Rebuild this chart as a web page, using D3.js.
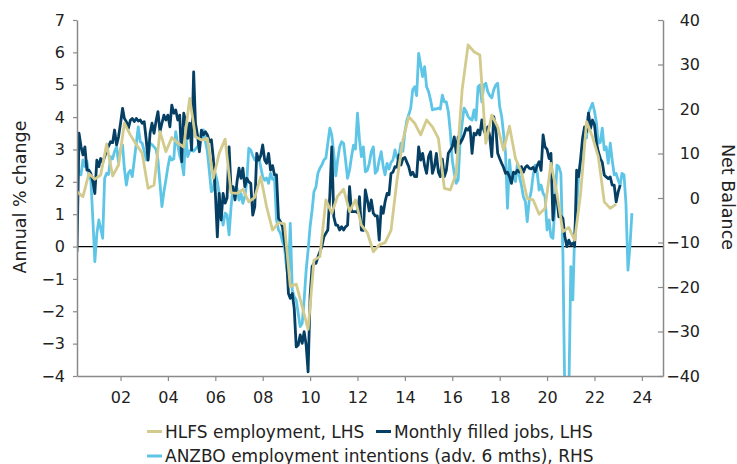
<!DOCTYPE html>
<html>
<head>
<meta charset="utf-8">
<script src="https://cdn.jsdelivr.net/npm/d3@7"></script>
<style>
  body { margin: 0; background: #fff; }
  svg { display: block; font-family: "DejaVu Sans", Verdana, sans-serif; }
</style>
</head>
<body>
<svg id="chart" width="737" height="464"></svg>
<script>
// HLFS employment, annual % change, quarterly from Mar 2000 (LHS)
var hlfs = [1.69, 1.54, 2.26, 2.08, 2.21, 3.17, 2.18, 2.52, 3.81, 3.45,
  3.15, 2.88, 1.80, 1.90, 3.55, 2.93, 3.37, 3.2, 3.07, 4.58,
  3.39, 3.29, 3.34, 2.11, 2.88, 3.32, 1.66, 1.64, 1.77, 1.38,
  1.52, 2.16, 1.23, 0.51, 0.74, 0.70, -1.24, -1.16, -1.86, -2.56,
  -0.42, -0.31, 1.44, 1.03, 1.56, 1.77, 1.08, 1.44, 0.66, 0.43,
  -0.16, 0.05, 0.12, 0.5, 2.05, 3.29, 4.01, 3.81, 3.45, 3.91,
  3.7, 3.34, 1.80, 1.75, 2.26, 4.84, 6.23, 6.02, 5.92, 3.19,
  4.06, 3.7, 2.98, 3.72, 2.72, 2.31, 1.49, 1.44, 1.0, 1.18,
  2.57, 1.64, 0.46, 0.59, 0.2, 1.64, 3.86, 3.39, 2.77, 1.38,
  1.18, 1.31];

// Monthly filled jobs, annual % change, monthly from Mar 2000 (LHS)
var filledJobs = [-0.16, 3.5, 3.1, 2.83, 3.08, 2.36, 2.36, 2.25, 2.0, 1.64,
  2.67, 2.47, 2.72, 2.6, 2.77, 2.98, 3.1, 3.24, 3.21, 3.6,
  3.14, 3.39, 3.8, 4.27, 3.96, 3.86, 3.65, 3.9, 3.96, 3.86,
  3.96, 3.88, 3.91, 3.81, 3.86, 3.3, 2.67, 3.5, 3.81, 3.5,
  3.86, 4.17, 3.55, 3.81, 4.06, 3.91, 4.06, 3.7, 4.37, 4.12,
  4.22, 3.91, 4.06, 2.62, 4.12, 3.86, 3.34, 3.81, 2.98, 5.40,
  3.81, 3.45, 2.93, 3.60, 3.45, 3.55, 3.45, 3.24, 3.3, 2.72,
  1.69, 0.30, 1.64, 0.82, 1.64, 1.34, 1.5, 3.08, 1.75, 1.85,
  1.44, 2.0, 2.42, 2.11, 2.42, 1.85, 2.11, 2.0, 1.95, 0.97,
  1.23, 2.88, 2.67, 2.8, 3.14, 2.67, 2.57, 2.88, 2.36, 2.5,
  2.21, 2.21, 0.87, 0.77, 0.61, 0.15, -0.26, -1.45, -1.6, -1.45,
  -1.91, -3.1, -3.05, -2.73, -2.99, -2.63, -3.04, -3.87, -1.5, -0.62,
  -0.52, -0.52, -0.32, -0.16, 0.0, 0.3, 0.41, 0.51, 1.59, 3.08,
  0.92, 0.66, 0.66, 0.51, 0.61, 0.51, 0.61, 0.66, 1.85, 1.08,
  1.08, 1.08, 1.05, 1.54, 0.51, 0.5, 1.75, 1.44, 1.1, 1.44,
  1.03, 0.95, 0.95, 0.2, 1.23, 1.03, 1.38, 1.64, 1.6, 2.26,
  2.3, 2.47, 2.45, 2.83, 2.52, 2.72, 2.75, 2.6, 2.47, 2.21,
  2.3, 2.16, 2.16, 3.08, 2.67, 2.88, 2.5, 2.26, 2.78, 2.93,
  2.26, 2.47, 2.88, 2.3, 2.16, 2.7, 2.16, 2.35, 2.88, 2.98,
  3.08, 3.39, 2.9, 3.39, 3.19, 3.3, 3.45, 3.65, 3.6, 3.70,
  2.88, 3.5, 3.45, 3.6, 3.45, 3.91, 3.6, 3.45, 3.7, 3.4,
  2.78, 4.01, 3.7, 2.88, 2.72, 2.57, 2.45, 2.26, 2.3, 2.16,
  1.95, 2.3, 2.26, 2.36, 2.3, 2.47, 2.3, 2.45, 2.5, 2.42,
  2.4, 2.45, 2.31, 2.5, 2.62, 2.35, 3.45, 3.08, 3.0, 2.72,
  2.88, 0.82, 1.59, 1.5, 0.92, 0.95, 0.87, 0.30, 0.0, 0.2,
  0.05, 0.1, 0.0, 2.36, 2.16, 2.7, 3.34, 3.70, 3.55, 4.12,
  3.65, 3.91, 3.76, 3.19, 2.93, 2.72, 2.6, 2.21, 2.15, 2.1,
  2.15, 1.90, 1.9, 1.38, 1.69, 1.90];

// ANZBO employment intentions, net balance, advanced 6 months, monthly from Mar 2000 (RHS)
var anzbo = [9.67, 5.55, 5.2, 8.54, 7.04, 8.3, 5.0, 4.05, -5, -14.3,
  -8, -4.94, -6.8, -9.05, 4.43, 5.55, 5.3, 9.28, 8.8, 10.5,
  11.5, 8.0, 11.0, 11.9, 6.68, 2.92, 5.55, 6.2, 4.8, 8.54,
  12.3, 16.0, 12.65, 12.3, 10.5, 8.54, 8.8, 12.3, 12.0, 11.5,
  11.0, 8.54, 3.3, -1.95, 1.42, 4.05, 7.0, 9.28, 8.54, 8.8,
  14.9, 11.9, 9.5, 8.16, 5.2, 14.5, 9.3, 10.5, 11.0, 10.5,
  11.0, 11.5, 12.5, 13.0, 15.3, 12.8, 10.4, 6.0, 1.42, 2.0,
  5.55, 3.67, 1.0, -3.07, -6.06, -3.4, -3.8, -8.3, -1.95, 2.5,
  0.67, 2.2, -0.45, 1.0, -1.2, 0.3, 3.67, 11.2, 10.8, 9.5,
  8.54, 9.0, 9.28, 7.04, 4.8, 4.0, 4.5, 3.3, 5.55, 4.2,
  4.5, -4.94, -7.2, -7.93, -9.8, -10.9, -15.4, -18.4, -5.7, -20.7,
  -22.2, -22.9, -25.9, -28.9, -28.2, -22.9, -16.2, -11.7, -6.4, -2.7,
  1.42, 2.5, 5.55, 6.68, 7.4, 8.54, 9.0, 12.3, 15.7, 14.2,
  10.0, 5.0, 8.54, 11.5, 12.65, 12.3, 8.54, 4.43, 6.3, 9.28,
  11.9, 11.0, 19.04, 13.1, 9.28, 11.5, 5.9, 6.2, 7.8, 10.4,
  11.5, 5.55, 6.2, 8.54, 10.4, 7.04, 5.2, 7.8, 6.5, 8.0,
  8.54, 10.8, 9.0, 9.5, 12.3, 10.5, 14.9, 17.5, 18.7, 20.2,
  24.3, 25.0, 23.0, 32.5, 29.9, 27.3, 29.5, 25.0, 23.9, 22.0,
  19.8, 20.0, 20.0, 20.2, 20.0, 23.1, 21.6, 21.6, 19.4, 15.0,
  8.54, 5.55, 3.3, 4.05, 12.65, 16.8, 20.2, 19.5, 18.3, 17.8,
  17.5, 19.8, 17.5, 25.0, 25.4, 21.6, 25.4, 25.8, 23.9, 23.0,
  22.5, 24.3, 25.4, 25.8, 20.5, 18.3, 14.5, 10.0, -2.3, 8.54,
  4.05, 5.2, 3.67, 7.8, 4.8, 3.0, 0.3, -0.8, -5.3, -0.5,
  1.42, 5.2, 7.4, 5.9, 1.8, 2.92, 1.05, 0.3, -7.2, -4.94,
  -8.7, -9.05, -2, 7.4, 7.0, 5.55, -12.4, -45, -45, -45,
  -15.4, -22.9, -8, -2, 4.8, 8, 10.0, 13.8, 13.5, 19.04,
  20.2, 21.3, 19.5, 16.8, 12.3, 12.5, 15.7, 10.8, 11.5, 7.8,
  12.3, 8.54, 5.2, 5.5, 4, 2.92, 5.55, 5.2, -1.2, -16.2,
  -11.0, -3.4];

var leftTicks = [-4, -3, -2, -1, 0, 1, 2, 3, 4, 5, 6, 7];
var rightTicks = [-40, -30, -20, -10, 0, 10, 20, 30, 40];
var yearLabels = ["02", "04", "06", "08", "10", "12", "14", "16", "18", "20", "22", "24"];
var seriesNames = ["HLFS employment, LHS", "Monthly filled jobs, LHS", "ANZBO employment intentions (adv. 6 mths), RHS"];
var colors = { hlfs: "#d3cb8d", jobs: "#053f64", anzbo: "#5ec5e7" };

var svg = d3.select("#chart"),
  plotLeft = 77, plotRight = 663, plotTop = 20, plotBottom = 376;

var start = new Date(2000, 2, 1);

var x = d3.scaleTime()
  .domain([start, new Date(2024, 10, 22)])
  .range([plotLeft, plotRight]);
var yL = d3.scaleLinear().domain([-4, 7]).range([plotBottom, plotTop]);
var yR = d3.scaleLinear().domain([-40, 40]).range([plotBottom, plotTop]);

function monthly(arr) {
  return arr.map(function(v, i) { return { date: d3.timeMonth.offset(start, i), value: v }; });
}
function quarterly(arr) {
  return arr.map(function(v, i) { return { date: d3.timeMonth.offset(start, i * 3), value: v }; });
}

svg.append("defs").append("clipPath").attr("id", "plot")
  .append("rect").attr("x", plotLeft).attr("y", plotTop)
  .attr("width", plotRight - plotLeft).attr("height", plotBottom - plotTop);

// zero line
svg.append("line")
  .attr("x1", plotLeft).attr("x2", plotRight)
  .attr("y1", yL(0)).attr("y2", yL(0))
  .attr("stroke", "#000").attr("stroke-width", 1.2);

var plot = svg.append("g").attr("clip-path", "url(#plot)");

function drawLine(data, yScale, color) {
  plot.append("path")
    .datum(data)
    .attr("fill", "none")
    .attr("stroke", color)
    .attr("stroke-width", 2.8)
    .attr("stroke-linejoin", "round")
    .attr("d", d3.line()
      .x(function(d) { return x(d.date); })
      .y(function(d) { return yScale(d.value); }));
}

drawLine(monthly(anzbo), yR, colors.anzbo);
drawLine(monthly(filledJobs), yL, colors.jobs);
drawLine(quarterly(hlfs), yL, colors.hlfs);

// axes
var axisColor = "#8a8a8a";
function styleAxis(g) {
  g.select(".domain").attr("stroke", axisColor).attr("stroke-width", 1.5);
  g.selectAll(".tick line").attr("stroke", axisColor).attr("stroke-width", 1.2);
  g.selectAll(".tick text").attr("fill", "#222").attr("font-size", 16)
    .attr("font-family", "DejaVu Sans, Verdana, sans-serif");
}

svg.append("g")
  .attr("transform", "translate(0," + plotBottom + ")")
  .call(d3.axisBottom(x)
    .tickValues(yearLabels.map(function(s) { return new Date(2000 + (+s), 0, 1); }))
    .tickFormat(function(d, i) { return yearLabels[i]; })
    .tickSizeInner(5).tickSizeOuter(0).tickPadding(11))
  .call(styleAxis);

svg.append("g")
  .attr("transform", "translate(" + plotLeft + ",0)")
  .call(d3.axisLeft(yL).tickValues(leftTicks).tickSizeInner(4).tickSizeOuter(0).tickPadding(8)
    .tickFormat(d3.format("d")))
  .call(styleAxis);

var rAxis = svg.append("g")
  .attr("transform", "translate(" + plotRight + ",0)")
  .call(d3.axisRight(yR).tickValues(rightTicks).tickSizeInner(-5).tickSizeOuter(0).tickPadding(37)
    .tickFormat(d3.format("d")))
  .call(styleAxis);
rAxis.selectAll(".tick text").attr("text-anchor", "end");

// axis titles
svg.append("text")
  .attr("transform", "translate(26,197) rotate(-90)")
  .attr("text-anchor", "middle")
  .attr("font-size", 17.5)
  .attr("fill", "#222")
  .text("Annual % change");

svg.append("text")
  .attr("transform", "translate(722,197) rotate(90)")
  .attr("text-anchor", "middle")
  .attr("font-size", 17.5)
  .attr("fill", "#222")
  .text("Net Balance");

// legend
var legendItems = [
  { name: seriesNames[0], color: colors.hlfs, lx: 147, ly: 431.5 },
  { name: seriesNames[1], color: colors.jobs, lx: 376, ly: 431.5 },
  { name: seriesNames[2], color: colors.anzbo, lx: 147, ly: 456 }
];
var legend = svg.append("g").selectAll("g").data(legendItems).enter().append("g")
  .attr("transform", function(d) { return "translate(" + d.lx + "," + d.ly + ")"; });
legend.append("line")
  .attr("x1", 0).attr("x2", 15)
  .attr("stroke", function(d) { return d.color; })
  .attr("stroke-width", 3);
legend.append("text")
  .attr("x", 18)
  .attr("dy", "0.36em")
  .attr("font-size", 17)
  .attr("fill", "#222")
  .text(function(d) { return d.name; });
</script>
</body>
</html>
